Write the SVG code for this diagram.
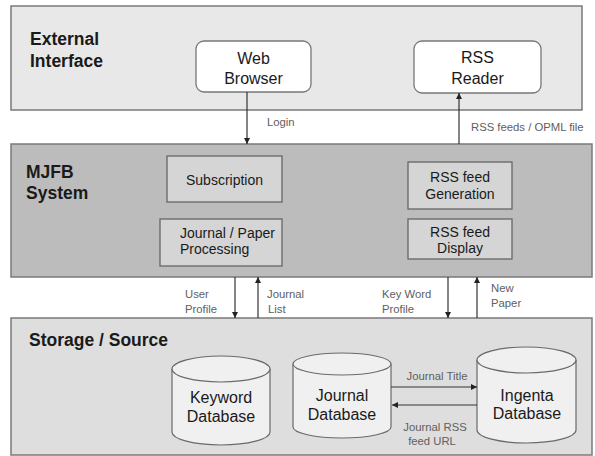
<svg xmlns="http://www.w3.org/2000/svg" width="595" height="456" viewBox="0 0 595 456">
<style>
.layer{stroke:#7a7a7a;stroke-width:1.5}
.title{font-family:"Liberation Sans",Arial,sans-serif;font-weight:bold;font-size:17.5px;fill:#1a1a1a}
.node{font-family:"Liberation Sans",Arial,sans-serif;font-size:14px;fill:#1a1a1a}
.big{font-size:16px}
.lbl{font-family:"Liberation Sans",Arial,sans-serif;font-size:11.3px;fill:#606060}
.box{fill:#d5d5d5;stroke:#666;stroke-width:1.3}
.wbox{fill:#ffffff;stroke:#777;stroke-width:1.3}
.cyl{fill:#f0f0f0;stroke:#6a6a6a;stroke-width:1.2}
.conn{stroke:#333;stroke-width:1.2;fill:none}
</style>
<defs>
<marker id="ah" viewBox="0 0 10 10" refX="10" refY="5" markerWidth="6" markerHeight="6" orient="auto" markerUnits="userSpaceOnUse">
<path d="M0,0 L10,5 L0,10 z" fill="#222"/>
</marker>
</defs>
<rect width="595" height="456" fill="#ffffff"/>

<g id="external-interface">
<rect class="layer" x="11" y="6" width="571" height="104" fill="#e8e8e8"/>
<text class="title" x="30" y="45">External</text>
<text class="title" x="30" y="67">Interface</text>
</g>
<g id="mjfb-system">
<rect class="layer" x="11" y="144" width="581" height="133" fill="#bcbcbc"/>
<text class="title" x="26" y="178">MJFB</text>
<text class="title" x="26" y="199">System</text>
</g>
<g id="storage-source">
<rect class="layer" x="11" y="318" width="581" height="137" fill="#dedede"/>
<text class="title" x="29" y="346">Storage / Source</text>
</g>

<g id="web-browser">
<rect class="wbox" x="196" y="41" width="115" height="51" rx="8"/>
<text class="node big" x="253.5" y="64" text-anchor="middle">Web</text>
<text class="node big" x="253.5" y="84" text-anchor="middle">Browser</text>
</g>
<g id="rss-reader">
<rect class="wbox" x="414" y="41" width="127" height="52" rx="8"/>
<text class="node big" x="477.5" y="63" text-anchor="middle">RSS</text>
<text class="node big" x="477.5" y="84" text-anchor="middle">Reader</text>
</g>

<g id="subscription">
<rect class="box" x="167" y="156" width="115" height="46"/>
<text class="node" x="224.5" y="185" text-anchor="middle">Subscription</text>
</g>
<g id="journal-paper-processing">
<rect class="box" x="160" y="219" width="122" height="47"/>
<text class="node" x="180" y="238">Journal / Paper</text>
<text class="node" x="180" y="254">Processing</text>
</g>
<g id="rss-feed-generation">
<rect class="box" x="408" y="162" width="104" height="47"/>
<text class="node" x="460" y="182" text-anchor="middle">RSS feed</text>
<text class="node" x="460" y="199" text-anchor="middle">Generation</text>
</g>
<g id="rss-feed-display">
<rect class="box" x="408" y="219" width="104" height="40"/>
<text class="node" x="460" y="237" text-anchor="middle">RSS feed</text>
<text class="node" x="460" y="253" text-anchor="middle">Display</text>
</g>

<g id="keyword-database">
<path class="cyl" d="M172,369 L172,432 A49,13 0 0 0 270,432 L270,369"/>
<ellipse class="cyl" cx="221" cy="369" rx="49" ry="13"/>
<text class="node big" x="221" y="403" text-anchor="middle">Keyword</text>
<text class="node big" x="221" y="422" text-anchor="middle">Database</text>
</g>
<g id="journal-database">
<path class="cyl" d="M293,364 L293,427 A49,11 0 0 0 391,427 L391,364"/>
<ellipse class="cyl" cx="342" cy="364" rx="49" ry="11"/>
<text class="node big" x="342" y="401" text-anchor="middle">Journal</text>
<text class="node big" x="342" y="420" text-anchor="middle">Database</text>
</g>
<g id="ingenta-database">
<path class="cyl" d="M477,360 L477,430 A49.5,13 0 0 0 576,430 L576,360"/>
<ellipse class="cyl" cx="526.5" cy="360" rx="49.5" ry="13"/>
<text class="node big" x="527" y="401" text-anchor="middle">Ingenta</text>
<text class="node big" x="527" y="419" text-anchor="middle">Database</text>
</g>

<g id="connectors">
<line class="conn" x1="247" y1="92" x2="247" y2="144" marker-end="url(#ah)"/>
<line class="conn" x1="459" y1="144" x2="459" y2="93" marker-end="url(#ah)"/>
<line class="conn" x1="235" y1="277" x2="235" y2="318" marker-end="url(#ah)"/>
<line class="conn" x1="258" y1="318" x2="258" y2="277" marker-end="url(#ah)"/>
<line class="conn" x1="448" y1="277" x2="448" y2="318" marker-end="url(#ah)"/>
<line class="conn" x1="477" y1="318" x2="477" y2="277" marker-end="url(#ah)"/>
<line class="conn" x1="391" y1="387" x2="477" y2="387" marker-end="url(#ah)"/>
<line class="conn" x1="477" y1="405" x2="392" y2="405" marker-end="url(#ah)"/>
<text class="lbl" x="267" y="126">Login</text>
<text class="lbl" x="471" y="131">RSS feeds / OPML file</text>
<text class="lbl" x="185" y="298">User</text>
<text class="lbl" x="185" y="313">Profile</text>
<text class="lbl" x="267" y="298">Journal</text>
<text class="lbl" x="268" y="313">List</text>
<text class="lbl" x="382" y="298">Key Word</text>
<text class="lbl" x="382" y="313">Profile</text>
<text class="lbl" x="491" y="292">New</text>
<text class="lbl" x="491" y="307">Paper</text>
<text class="lbl" x="437" y="380" text-anchor="middle">Journal Title</text>
<text class="lbl" x="435" y="431" text-anchor="middle">Journal RSS</text>
<text class="lbl" x="432" y="445" text-anchor="middle">feed URL</text>
</g>
</svg>
